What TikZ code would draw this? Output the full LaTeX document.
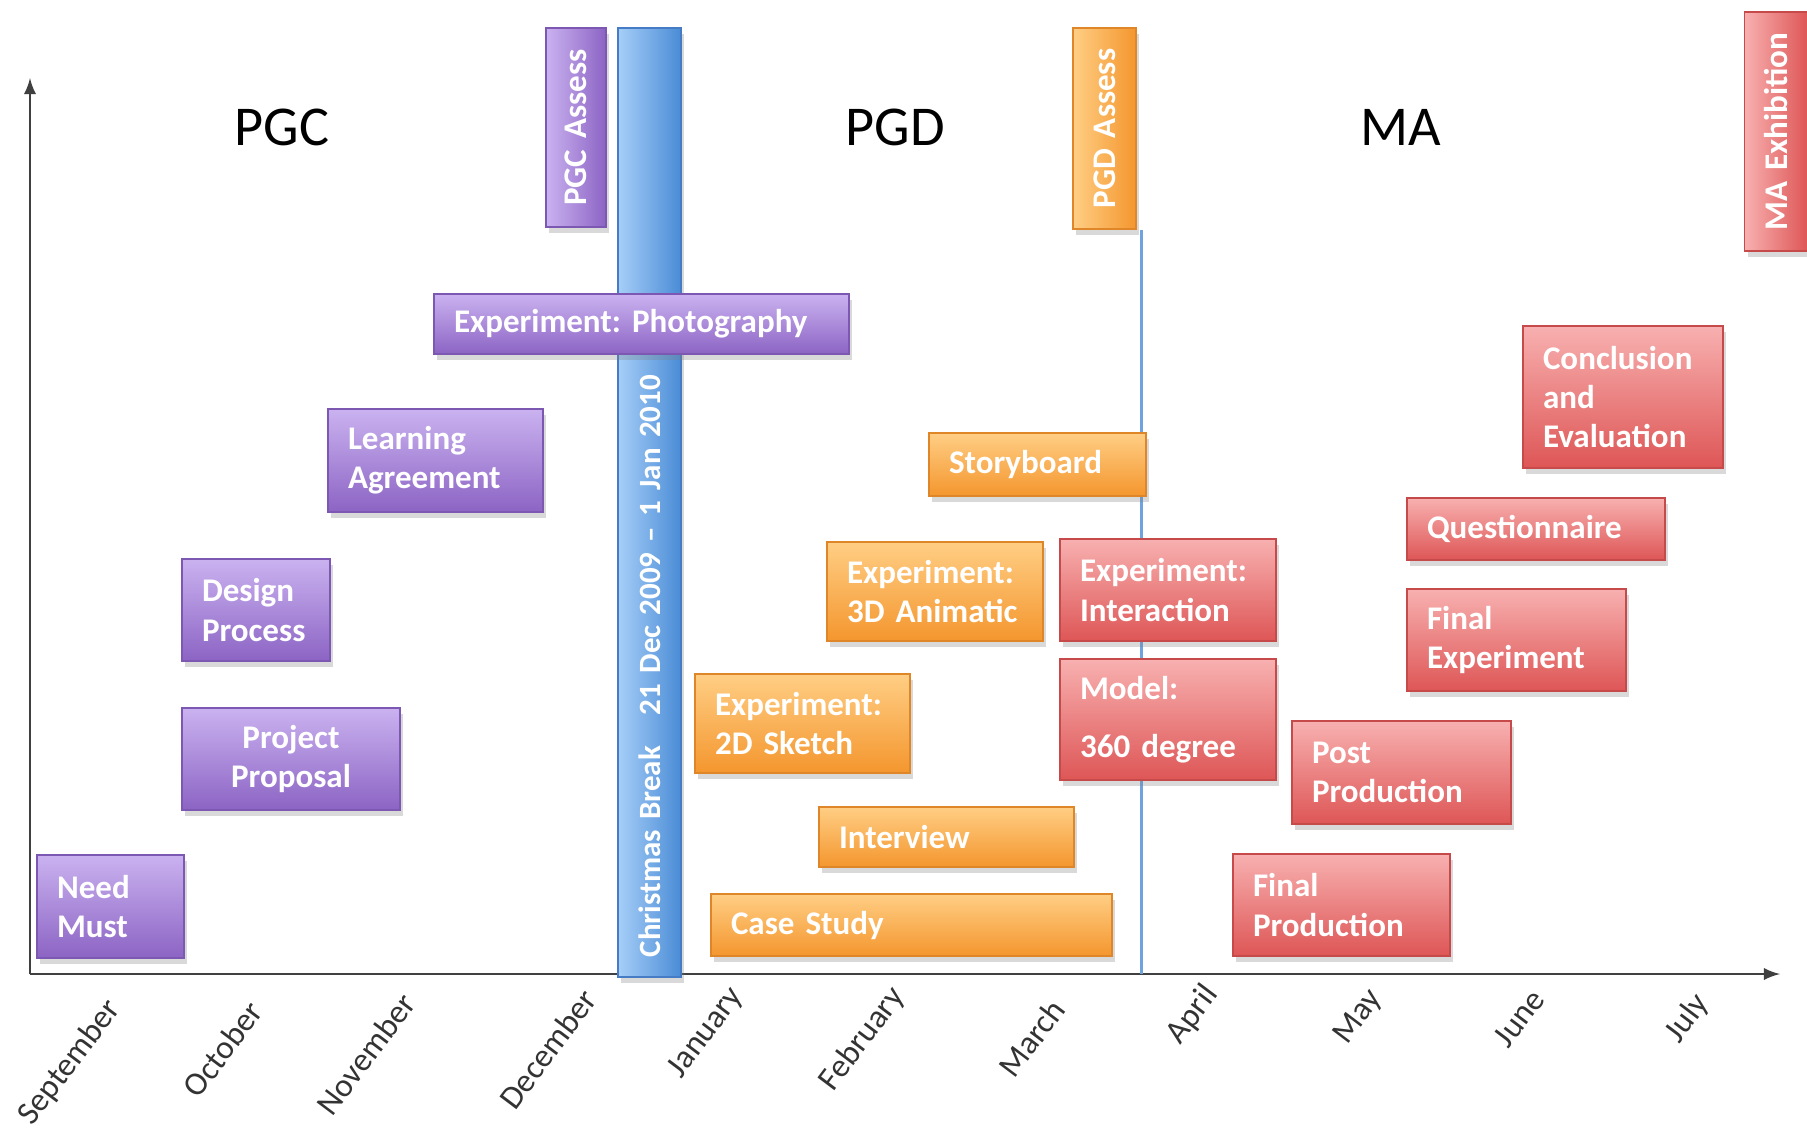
\documentclass[tikz,border=0pt]{standalone}
\usepackage{fontspec}
\setmainfont{Carlito}
\frenchspacing
\usetikzlibrary{shadows}
\definecolor{pgctop}{RGB}{202,178,240}
\definecolor{pgcbot}{RGB}{140,100,196}
\definecolor{pgcedge}{RGB}{125,88,178}
\definecolor{pgdtop}{RGB}{255,206,132}
\definecolor{pgdbot}{RGB}{244,150,46}
\definecolor{pgdedge}{RGB}{222,134,40}
\definecolor{matop}{RGB}{248,176,176}
\definecolor{mabot}{RGB}{222,86,86}
\definecolor{maedge}{RGB}{198,74,74}
\definecolor{xmastop}{RGB}{166,206,248}
\definecolor{xmasbot}{RGB}{74,140,214}
\definecolor{xmasedge}{RGB}{70,124,198}
\tikzset{
  task/.style={line width=0.3pt,text=white,align=left,inner xsep=2mm,inner ysep=0pt,
    font=\fontsize{9.4}{11.2}\selectfont\bfseries,
    drop shadow={opacity=0.3,shadow xshift=0.3mm,shadow yshift=-0.6mm}},
  pgcbox/.style={task,draw=pgcedge,top color=pgctop,bottom color=pgcbot},
  pgdbox/.style={task,draw=pgdedge,top color=pgdtop,bottom color=pgdbot},
  mabox/.style={task,draw=maedge,top color=matop,bottom color=mabot},
  assess/.style={rotate=90,align=center},
  phase/.style={font=\fontsize{16}{19}\selectfont,text=black},
  month/.style={rotate=53,anchor=east,inner sep=0pt,font=\fontsize{9.4}{11}\selectfont,text=black!80}
}
\begin{document}
\begin{tikzpicture}[x=1mm,y=-1mm]
  \useasboundingbox (0,0) rectangle (180.7,112.8);
  % axes
  \coordinate (origin) at (3,97.4);
  \coordinate (ytop) at (3,7.8);
  \coordinate (xend) at (178,97.4);
  \draw [line width=0.6pt,black!75,-latex] (origin)--(ytop);
  \draw [line width=0.6pt,black!75,-latex] (origin)--(xend);
  % phases
  \node [phase] (pgc) at (28.2,12.7) {PGC};
  \node [phase] (pgd) at (89.5,12.7) {PGD};
  \node [phase] (ma) at (140.1,12.7) {MA};
  % assessment line
  \node [task,draw=pgdedge,left color=pgdtop,right color=pgdbot,assess,text width=16.1mm,minimum height=6.3mm] (pgdassess) at (110.45,12.85) {PGD Assess};
  \draw [line width=0.6pt,xmasbot!80] ([xshift=0.5mm]pgdassess.south west)--([xshift=0.5mm]pgdassess.south west |- origin);
  % christmas
  \node [task,draw=xmasedge,left color=xmastop,right color=xmasbot,rotate=90,text width=90.9mm,minimum height=6.3mm,
    font=\fontsize{8.8}{11}\selectfont\bfseries] (xmas) at (64.95,50.25) {Christmas Break\quad 21 Dec 2009 -- 1 Jan 2010};
  % PGC
  \node [task,draw=pgcedge,left color=pgctop,right color=pgcbot,assess,text width=15.9mm,minimum height=6mm] (pgcassess) at (57.6,12.75) {PGC Assess};
  \node [pgcbox,text width=37.5mm,minimum height=6mm] (photo) at (64.15,32.4) {Experiment: Photography};
  \node [pgcbox,text width=17.5mm,minimum height=10.3mm] (learning) at (43.55,46.05) {Learning\\Agreement};
  \node [pgcbox,text width=10.8mm,minimum height=10.2mm] (design) at (25.6,61.0) {Design\\Process};
  \node [pgcbox,align=center,text width=17.8mm,minimum height=10.2mm] (proposal) at (29.1,75.9) {Project\\Proposal};
  \node [pgcbox,text width=10.7mm,minimum height=10.3mm] (need) at (11.05,90.65) {Need\\Must};
  % PGD
  \node [pgdbox,text width=17.7mm,minimum height=6.3mm] (story) at (103.75,46.45) {Storyboard};
  \node [pgdbox,text width=17.6mm,minimum height=9.9mm] (anim) at (93.5,59.15) {Experiment:\\3D Animatic};
  \node [pgdbox,text width=17.5mm,minimum height=9.9mm] (sketch) at (80.25,72.35) {Experiment:\\2D Sketch};
  \node [pgdbox,text width=21.5mm,minimum height=6mm] (interview) at (94.65,83.7) {Interview};
  \node [pgdbox,text width=36.1mm,minimum height=6.2mm] (casestudy) at (91.15,92.5) {Case Study};
  % MA
  \node [mabox,text width=17.6mm,minimum height=10.2mm] (interaction) at (116.8,59.0) {Experiment:\\Interaction};
  \node [mabox,text width=17.6mm,minimum height=12.1mm] (model) at (116.8,71.95) {Model:\\[1.9mm]360 degree};
  \node [mabox,text width=17.7mm,minimum height=10.2mm] (finalprod) at (134.15,90.5) {Final\\Production};
  \node [mabox,text width=17.9mm,minimum height=10.3mm] (postprod) at (140.15,77.25) {Post\\Production};
  \node [mabox,text width=17.9mm,minimum height=10.2mm] (finalexp) at (151.65,64.0) {Final\\Experiment};
  \node [mabox,text width=21.8mm,minimum height=6.2mm] (quest) at (153.6,52.9) {Questionnaire};
  \node [mabox,text width=16mm,minimum height=14.2mm] (conclusion) at (162.3,39.7) {Conclusion\\and\\Evaluation};
  \node [task,draw=maedge,left color=matop,right color=mabot,assess,text width=19.9mm,minimum height=6.3mm] (maexhib) at (177.6,13.15) {MA Exhibition};
  % months
  \foreach \mon/\mx/\my [count=\i] in {September/11.5/100.3,October/25.6/100.5,November/40.9/99.7,
      December/59.0/99.3,January/73.8/99.1,February/89.9/99.1,March/105.8/100.3,
      April/121.2/98.9,May/137.7/99.3,June/153.8/99.3,July/170.3/99.8}
    \node [month] (m\i) at (\mx,\my) {\mon};
\end{tikzpicture}
\end{document}
